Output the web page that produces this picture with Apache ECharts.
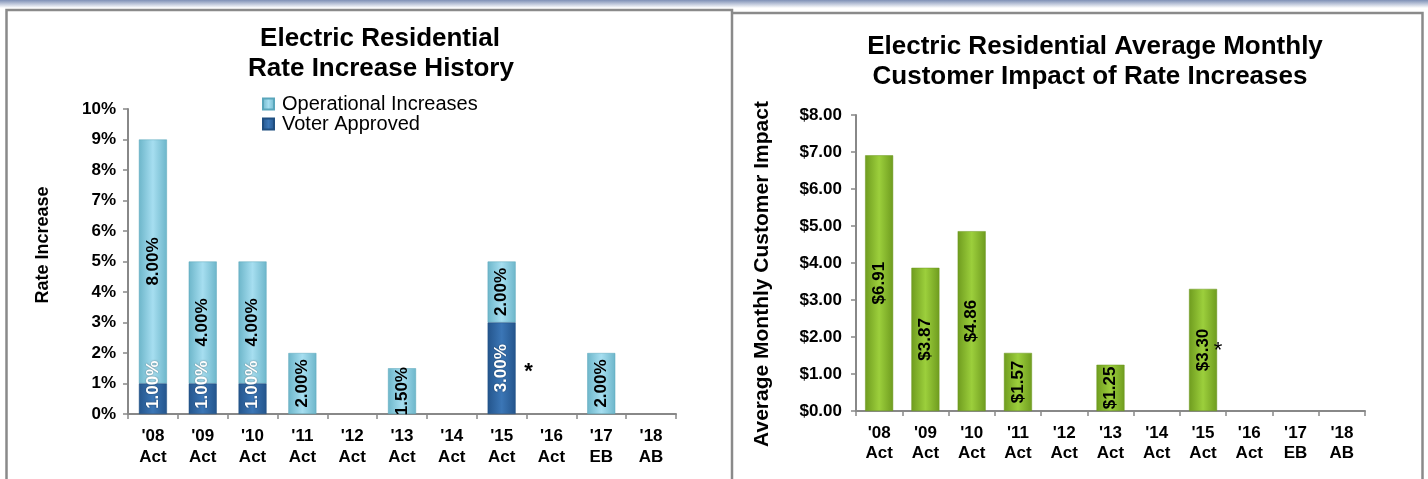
<!DOCTYPE html>
<html>
<head>
<meta charset="utf-8">
<script src="https://cdn.jsdelivr.net/npm/echarts@6/dist/echarts.min.js"></script>
<style>
html,body{margin:0;padding:0;background:#fff;}
#c{width:1428px;height:479px;}
</style>
</head>
<body>
<div id="c"></div>
<script>
// ---- data ----
const years = ["'08","'09","'10","'11","'12","'13","'14","'15","'16","'17","'18"];
const yearTypes = ["Act","Act","Act","Act","Act","Act","Act","Act","Act","EB","AB"];
const voterApproved = [1, 1, 1, null, null, null, null, 3, null, null, null];
const operational = [8, 4, 4, 2, null, 1.5, null, 2, null, 2, null];
const monthlyImpact = [6.91, 3.87, 4.86, 1.57, null, 1.25, null, 3.30, null, null, null];
const rateTicks = [0,1,2,3,4,5,6,7,8,9,10];
const impactTicks = [0,1,2,3,4,5,6,7,8];

const FONT = "'Liberation Sans', Arial, sans-serif";
const AXIS = '#888888';

function hGrad(edge, mid) {
  return new echarts.graphic.LinearGradient(0, 0, 1, 0, [
    {offset: 0, color: edge}, {offset: 0.5, color: mid}, {offset: 1, color: edge}
  ]);
}

const chart = echarts.init(document.getElementById('c'), null, {renderer: 'canvas'});

const catAxisCommon = {
  type: 'category',
  data: years,
  axisLine: {lineStyle: {color: AXIS, width: 2}},
  axisTick: {show: true, length: 5, lineStyle: {color: AXIS, width: 1.5}},
  axisLabel: {
    formatter: (v, i) => v + '\n' + yearTypes[i],
    color: '#000', fontFamily: FONT, fontWeight: 'bold', fontSize: 17, lineHeight: 21, margin: 12
  }
};

const valAxisCommon = {
  type: 'value',
  axisLine: {show: true, lineStyle: {color: AXIS, width: 2}},
  axisTick: {show: true, length: 5, lineStyle: {color: AXIS, width: 1.5}},
  splitLine: {show: false},
  axisLabel: {color: '#000', fontFamily: FONT, fontWeight: 'bold', fontSize: 17, margin: 10}
};

const labelCommon = {
  show: true, position: 'inside', rotate: 90,
  fontFamily: FONT, fontWeight: 'bold', fontSize: 17
};

// short segments: nudge the label toward the top so it stays above the axis
const voterData = voterApproved.map(v => (v != null && v < 2) ? {value: v, label: {offset: [14, 0]}} : v);

chart.setOption({
  animation: false,
  backgroundColor: '#fff',
  legend: {
    data: [{name: 'Operational Increases', icon: 'rect'}, {name: 'Voter Approved', icon: 'rect'}],
    orient: 'vertical', left: 257, top: 89, itemWidth: 11, itemHeight: 11, itemGap: 0,
    textStyle: {fontFamily: FONT, fontSize: 20, color: '#000', padding: [0, 0, 0, 3]},
    selectedMode: false
  },
  grid: [
    {left: 128, top: 109, width: 548, height: 305},
    {left: 856, top: 115, width: 509, height: 296}
  ],
  xAxis: [
    Object.assign({gridIndex: 0}, catAxisCommon),
    Object.assign({gridIndex: 1}, catAxisCommon, {axisLabel: Object.assign({}, catAxisCommon.axisLabel, {lineHeight: 20, margin: 12})})
  ],
  yAxis: [
    Object.assign({gridIndex: 0, min: rateTicks[0], max: rateTicks[rateTicks.length - 1], interval: 1}, valAxisCommon,
      {axisLabel: Object.assign({}, valAxisCommon.axisLabel, {formatter: v => v + '%', margin: 12})}),
    Object.assign({gridIndex: 1, min: impactTicks[0], max: impactTicks[impactTicks.length - 1], interval: 1}, valAxisCommon,
      {axisLabel: Object.assign({}, valAxisCommon.axisLabel, {formatter: v => '$' + v.toFixed(2), margin: 14})})
  ],
  series: [
    {
      name: 'Voter Approved', type: 'bar', stack: 'rate', xAxisIndex: 0, yAxisIndex: 0,
      data: voterData, barWidth: 28, z: 4,
      itemStyle: {color: hGrad('#24558c', '#3b76b6'), borderColor: '#1f4e80', borderWidth: 0.5},
      label: Object.assign({}, labelCommon, {
        color: '#fff',
        textShadowColor: 'rgba(0,0,0,0.45)', textShadowBlur: 2,
        formatter: p => p.value.toFixed(2) + '%'
      })
    },
    {
      name: 'Operational Increases', type: 'bar', stack: 'rate', xAxisIndex: 0, yAxisIndex: 0,
      data: operational, barWidth: 28, z: 2,
      itemStyle: {color: hGrad('#6db6ca', '#a6def0'), borderColor: '#5aa6bb', borderWidth: 0.5},
      label: Object.assign({}, labelCommon, {
        color: '#000',
        formatter: p => p.value.toFixed(2) + '%'
      }),
      markPoint: {
        symbol: 'circle', symbolSize: 0,
        data: [{coord: ["'15", 1.5], value: '*'}],
        label: {show: true, formatter: '*', color: '#000', fontFamily: FONT, fontSize: 22, fontWeight: 'bold', offset: [27, 4]}
      }
    },
    {
      name: 'Impact', type: 'bar', xAxisIndex: 1, yAxisIndex: 1,
      data: monthlyImpact, barWidth: 28,
      itemStyle: {color: hGrad('#6f9c1f', '#9ccf3c'), borderColor: '#6a961c', borderWidth: 0.5},
      label: Object.assign({}, labelCommon, {
        color: '#000',
        formatter: p => '$' + p.value.toFixed(2)
      }),
      markPoint: {
        symbol: 'circle', symbolSize: 0,
        data: [{coord: ["'15", 1.78], value: '*'}],
        label: {show: true, formatter: '*', color: '#000', fontFamily: FONT, fontSize: 22, offset: [15, 6]}
      }
    }
  ],
  graphic: [
    {type: 'rect', left: 0, top: 0, shape: {width: 1428, height: 8}, silent: true,
     style: {fill: new echarts.graphic.LinearGradient(0, 0, 0, 1, [{offset: 0, color: '#7e90b6'}, {offset: 1, color: '#ffffff'}])}},
    {type: 'polyline', shape: {points: [[6.5, 479], [6.5, 10], [732, 10], [732, 479]]}, silent: true,
     style: {stroke: '#8a8a8a', lineWidth: 2.5, fill: null}},
    {type: 'polyline', shape: {points: [[732, 13], [1422.5, 13], [1422.5, 479]]}, silent: true,
     style: {stroke: '#8a8a8a', lineWidth: 2.5, fill: null}},
    {type: 'text', x: 380, y: 39, silent: true,
     style: {text: 'Electric Residential', fontFamily: FONT, fontWeight: 'bold', fontSize: 26, fill: '#000', align: 'center', verticalAlign: 'middle'}},
    {type: 'text', x: 381, y: 69, silent: true,
     style: {text: 'Rate Increase History', fontFamily: FONT, fontWeight: 'bold', fontSize: 26, fill: '#000', align: 'center', verticalAlign: 'middle'}},
    {type: 'text', x: 1095, y: 47, silent: true,
     style: {text: 'Electric Residential Average Monthly', fontFamily: FONT, fontWeight: 'bold', fontSize: 26, fill: '#000', align: 'center', verticalAlign: 'middle'}},
    {type: 'text', x: 1090, y: 77, silent: true,
     style: {text: 'Customer Impact of Rate Increases', fontFamily: FONT, fontWeight: 'bold', fontSize: 26, fill: '#000', align: 'center', verticalAlign: 'middle'}},
    {type: 'text', x: 43, y: 245, rotation: Math.PI / 2, silent: true,
     style: {text: 'Rate Increase', fontFamily: FONT, fontWeight: 'bold', fontSize: 18, fill: '#000', align: 'center', verticalAlign: 'middle'}},
    {type: 'text', x: 762, y: 274, rotation: Math.PI / 2, silent: true,
     style: {text: 'Average Monthly Customer Impact', fontFamily: FONT, fontWeight: 'bold', fontSize: 21, fill: '#000', align: 'center', verticalAlign: 'middle'}}
  ]
});
</script>
</body>
</html>
